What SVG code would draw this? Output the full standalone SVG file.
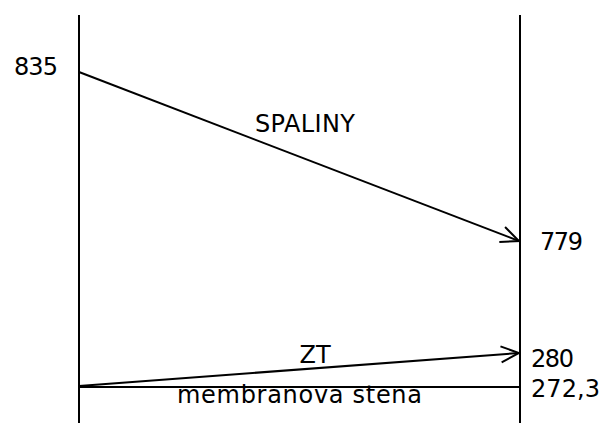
<svg xmlns="http://www.w3.org/2000/svg" width="603" height="423" viewBox="0 0 603 423">
<style>
.ln{stroke:#000;stroke-width:2;fill:none}
.t{font-family:"DejaVu Sans","Liberation Sans",sans-serif;font-size:24px;fill:#000}
</style>
<defs>
<marker id="ah" viewBox="0 0 20 20" refX="19" refY="10" markerWidth="20" markerHeight="20" markerUnits="userSpaceOnUse" orient="auto">
<path d="M1,2 L19,10 L1,18" fill="none" stroke="#000" stroke-width="2"/>
</marker>
</defs>
<rect width="603" height="423" fill="#fff"/>
<g id="walls">
<line class="ln" x1="79" y1="15" x2="79" y2="423"/>
<line class="ln" x1="520" y1="15" x2="520" y2="423"/>
</g>
<g id="connectors">
<line class="ln" x1="79" y1="72" x2="519" y2="241" marker-end="url(#ah)"/>
<line class="ln" x1="79" y1="386" x2="519" y2="353" marker-end="url(#ah)"/>
<line class="ln" x1="79" y1="387" x2="520" y2="387"/>
</g>
<g id="labels">
<text class="t" x="14" y="75" textLength="44">835</text>
<text class="t" x="540" y="250" textLength="43">779</text>
<text class="t" x="531" y="367" textLength="43">280</text>
<text class="t" x="531" y="397" textLength="69">272,3</text>
<text class="t" x="255" y="132" textLength="100">SPALINY</text>
<text class="t" x="315" y="363" text-anchor="middle" font-size="22">ZT</text>
<text class="t" x="177" y="403" textLength="245">membranova stena</text>
</g>
</svg>
